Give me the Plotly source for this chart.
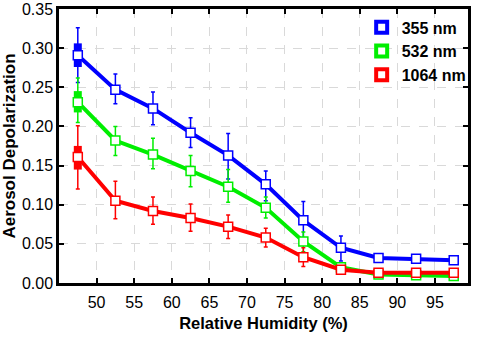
import plotly.graph_objects as go

rh = [47.5, 52.5, 57.5, 62.5, 67.5, 72.5, 77.5, 82.5, 87.5, 92.5, 97.5]

d355 = [0.291, 0.247, 0.223, 0.192, 0.163, 0.126, 0.080, 0.045, 0.032, 0.031, 0.029]
d355_hi = [0.326, 0.267, 0.244, 0.211, 0.191, 0.143, 0.104, 0.060, 0.034, 0.034, 0.032]
d355_lo = [0.256, 0.229, 0.202, 0.173, 0.133, 0.105, 0.054, 0.028, 0.030, 0.028, 0.026]

d532 = [0.231, 0.182, 0.164, 0.143, 0.123, 0.096, 0.053, 0.020, 0.011, 0.010, 0.009]
d532_hi = [0.262, 0.200, 0.185, 0.163, 0.145, 0.110, 0.065, 0.025, 0.012, 0.011, 0.010]
d532_lo = [0.205, 0.163, 0.146, 0.123, 0.103, 0.083, 0.040, 0.016, 0.010, 0.009, 0.008]

d1064 = [0.161, 0.105, 0.092, 0.083, 0.072, 0.058, 0.033, 0.017, 0.013, 0.013, 0.013]
d1064_hi = [0.201, 0.130, 0.110, 0.101, 0.087, 0.070, 0.045, 0.020, 0.014, 0.014, 0.014]
d1064_lo = [0.120, 0.082, 0.075, 0.066, 0.057, 0.046, 0.021, 0.014, 0.012, 0.012, 0.012]

# extra (filled) markers at the lowest humidity bin
extra_x = [47.5, 47.5]
extra_355 = [0.301, 0.281]
extra_532 = [0.240, 0.223]
extra_1064 = [0.170, 0.150]

labels = ["355 nm", "532 nm", "1064 nm"]
colors = ["#0000ff", "#00ee00", "#ff0000"]

x_ticks = [50, 55, 60, 65, 70, 75, 80, 85, 90, 95]
y_ticks = [0.00, 0.05, 0.10, 0.15, 0.20, 0.25, 0.30, 0.35]

series = [(d355, d355_hi, d355_lo, extra_355),
          (d532, d532_hi, d532_lo, extra_532),
          (d1064, d1064_hi, d1064_lo, extra_1064)]

fig = go.Figure()
for (vals, hi, lo, ex), lab, col in zip(series, labels, colors):
    fig.add_trace(go.Scatter(
        x=rh, y=vals, mode="lines", line=dict(color=col, width=4),
        showlegend=False, hoverinfo="skip"))
    fig.add_trace(go.Scatter(
        x=extra_x, y=ex, mode="markers",
        marker=dict(symbol="square", size=8, color=col),
        showlegend=False))
    fig.add_trace(go.Scatter(
        x=rh, y=vals, mode="markers",
        marker=dict(symbol="square", size=9, color="white",
                    line=dict(color=col, width=1.5)),
        error_y=dict(type="data", symmetric=False,
                     array=[h - v for h, v in zip(hi, vals)],
                     arrayminus=[v - l for v, l in zip(vals, lo)],
                     color=col, thickness=1.5, width=2),
        showlegend=False))

for lab, col in zip(labels, colors):
    fig.add_trace(go.Scatter(
        x=[None], y=[None], mode="markers", name=lab,
        marker=dict(symbol="square", size=11, color="white",
                    line=dict(color=col, width=4))))

fig.update_layout(
    width=477, height=343,
    margin=dict(l=59, r=5, t=9, b=60),
    paper_bgcolor="white", plot_bgcolor="white",
    font=dict(family="Liberation Sans, Arial, sans-serif", color="black", size=16),
    legend=dict(x=0.74, y=0.995, xanchor="left", yanchor="top",
                bgcolor="rgba(0,0,0,0)", borderwidth=0,
                font=dict(size=16, family="Liberation Sans, Arial", weight="bold"),
                itemwidth=30, tracegroupgap=0),
    showlegend=True,
)
fig.update_xaxes(
    range=[45, 99.4], tickvals=x_ticks, ticktext=[str(v) for v in x_ticks],
    showline=True, linecolor="black", linewidth=2.5, mirror="ticks",
    ticks="inside", ticklen=5, tickwidth=1.5, tickcolor="black",
    showgrid=True, gridcolor="#d9d9d9", griddash="dash", gridwidth=1,
    zeroline=False, tickfont=dict(size=16), automargin=False, ticklabelstandoff=3,
    title=dict(text="Relative Humidity (%)", font=dict(size=16.5, weight="bold"), standoff=8),
)
fig.update_yaxes(
    range=[0, 0.35], tickvals=y_ticks, ticktext=[f"{v:.2f}" for v in y_ticks],
    showline=True, linecolor="black", linewidth=2.5, mirror="ticks",
    ticks="inside", ticklen=5, tickwidth=1.5, tickcolor="black",
    showgrid=True, gridcolor="#d9d9d9", griddash="dash", gridwidth=1,
    zeroline=False, tickfont=dict(size=16), automargin=False,
    title=dict(text="Aerosol Depolarization", font=dict(size=17, weight="bold"), standoff=4),
)

# remove the default 8px page margin so the figure sits at the window's corner
fig.write_html("out.html", config={"displayModeBar": False},
               post_script="document.body.style.margin='0';")
